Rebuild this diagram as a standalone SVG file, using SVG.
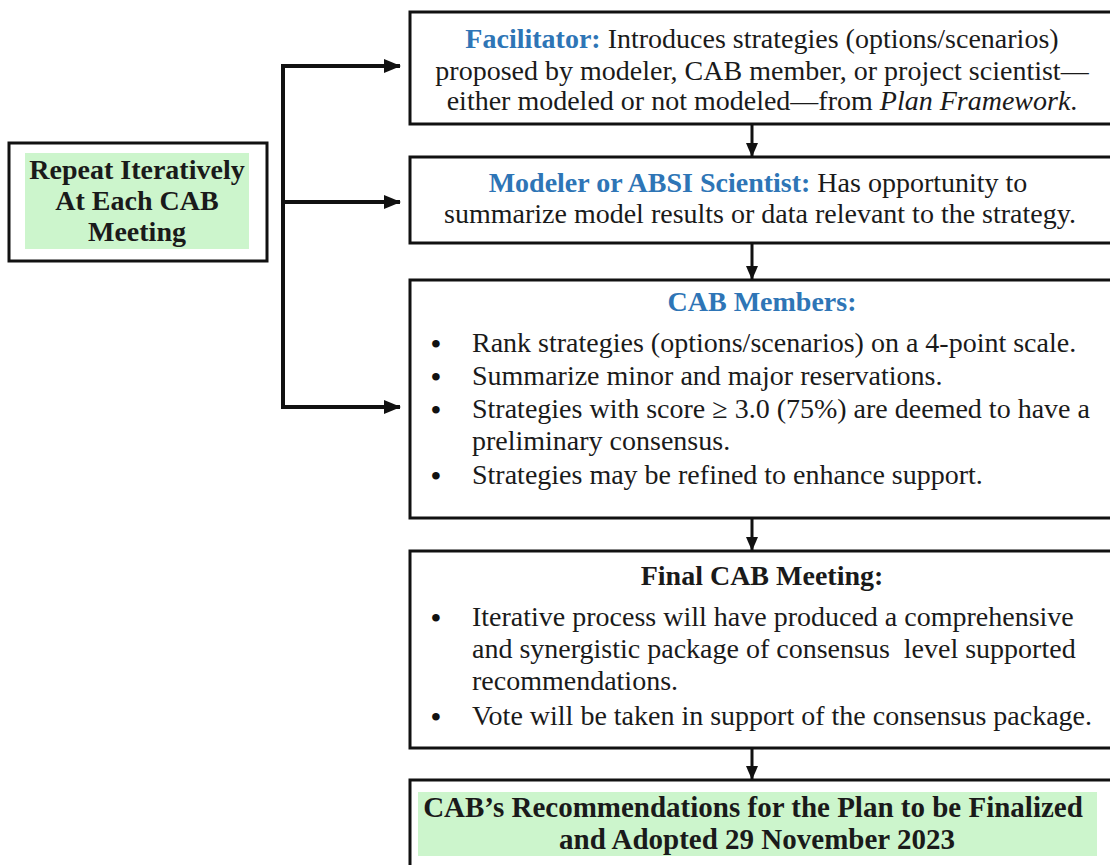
<svg xmlns="http://www.w3.org/2000/svg" width="1110" height="865" viewBox="0 0 1110 865">
<style>
  .box { fill: #ffffff; stroke: #111111; stroke-width: 3; }
  .green { fill: #ccf5cc; }
  .t { font-family: "Liberation Serif", "Times New Roman", serif; font-size: 28px; fill: #1a1a1a; }
  .bul { font-family: "Liberation Serif", "Times New Roman", serif; font-size: 28px; font-weight: bold; fill: #111111; }
  .c { text-anchor: middle; }
  .b { font-weight: bold; }
  .blue { fill: #2e75b6; font-weight: bold; }
  .conn { stroke: #111111; fill: none; }
</style>
<defs>
  <marker id="ah" markerUnits="userSpaceOnUse" markerWidth="17" markerHeight="16" viewBox="0 0 17 16" refX="16" refY="8" orient="auto">
    <path d="M0,1 L17,8 L0,15 Z" fill="#111111"/>
  </marker>
  <marker id="ahs" markerUnits="userSpaceOnUse" markerWidth="14" markerHeight="14" viewBox="0 0 14 14" refX="13" refY="7" orient="auto">
    <path d="M0,1 L14,7 L0,13 Z" fill="#111111"/>
  </marker>
</defs>
<rect width="1110" height="865" fill="#ffffff"/>

<g id="connectors">
  <line class="conn" x1="283" y1="64" x2="283" y2="409" stroke-width="4"/>
  <line class="conn" x1="281" y1="66" x2="400" y2="66" stroke-width="4" marker-end="url(#ah)"/>
  <line class="conn" x1="283" y1="202" x2="400" y2="202" stroke-width="4" marker-end="url(#ah)"/>
  <line class="conn" x1="281" y1="407" x2="400" y2="407" stroke-width="4" marker-end="url(#ah)"/>
  <line class="conn" x1="752" y1="125" x2="752" y2="156" stroke-width="3" marker-end="url(#ahs)"/>
  <line class="conn" x1="752" y1="244" x2="752" y2="279" stroke-width="3" marker-end="url(#ahs)"/>
  <line class="conn" x1="752" y1="519" x2="752" y2="550" stroke-width="3" marker-end="url(#ahs)"/>
  <line class="conn" x1="752" y1="749" x2="752" y2="779" stroke-width="3" marker-end="url(#ahs)"/>
</g>

<g id="repeat">
  <rect class="box" x="9" y="143" width="258" height="118"/>
  <rect class="green" x="25" y="153" width="224" height="96"/>
  <text class="t b c" x="137" y="179">Repeat Iteratively</text>
  <text class="t b c" x="137" y="210">At Each CAB</text>
  <text class="t b c" x="137" y="241">Meeting</text>
</g>

<g id="facilitator">
  <rect class="box" x="410" y="12" width="702" height="112"/>
  <text class="t c" x="762" y="48"><tspan class="blue">Facilitator:</tspan> Introduces strategies (options/scenarios)</text>
  <text class="t c" x="762" y="80">proposed by modeler, CAB member, or project scientist—</text>
  <text class="t c" x="762" y="110">either modeled or not modeled—from <tspan font-style="italic">Plan Framework</tspan>.</text>
</g>

<g id="modeler">
  <rect class="box" x="410" y="157" width="702" height="86"/>
  <text class="t c" x="758" y="192"><tspan class="blue">Modeler or ABSI Scientist:</tspan> Has opportunity to</text>
  <text class="t c" x="760" y="223">summarize model results or data relevant to the strategy.</text>
</g>

<g id="cab-members">
  <rect class="box" x="410" y="280" width="702" height="238"/>
  <text class="t c blue" x="762" y="311">CAB Members:</text>
  <text class="bul" x="431" y="353">•</text>
  <text class="t" x="472" y="352">Rank strategies (options/scenarios) on a 4-point scale.</text>
  <text class="bul" x="431" y="386">•</text>
  <text class="t" x="472" y="385">Summarize minor and major reservations.</text>
  <text class="bul" x="431" y="419">•</text>
  <text class="t" x="472" y="418">Strategies with score ≥ 3.0 (75%) are deemed to have a</text>
  <text class="t" x="472" y="450">preliminary consensus.</text>
  <text class="bul" x="431" y="485">•</text>
  <text class="t" x="472" y="484">Strategies may be refined to enhance support.</text>
</g>

<g id="final-meeting">
  <rect class="box" x="410" y="551" width="702" height="197"/>
  <text class="t c b" x="762" y="585">Final CAB Meeting:</text>
  <text class="bul" x="431" y="627">•</text>
  <text class="t" x="472" y="626">Iterative process will have produced a comprehensive</text>
  <text class="t" x="472" y="658">and synergistic package of consensus&#160; level supported</text>
  <text class="t" x="472" y="690">recommendations.</text>
  <text class="bul" x="431" y="726">•</text>
  <text class="t" x="472" y="725">Vote will be taken in support of the consensus package.</text>
</g>

<g id="recommendations">
  <rect class="box" x="410" y="780" width="702" height="95"/>
  <rect class="green" x="418" y="792" width="679" height="64"/>
  <text class="t b c" x="753" y="817" style="font-size:29px">CAB’s Recommendations for the Plan to be Finalized</text>
  <text class="t b c" x="757" y="849" style="font-size:29px">and Adopted 29 November 2023</text>
</g>
</svg>
